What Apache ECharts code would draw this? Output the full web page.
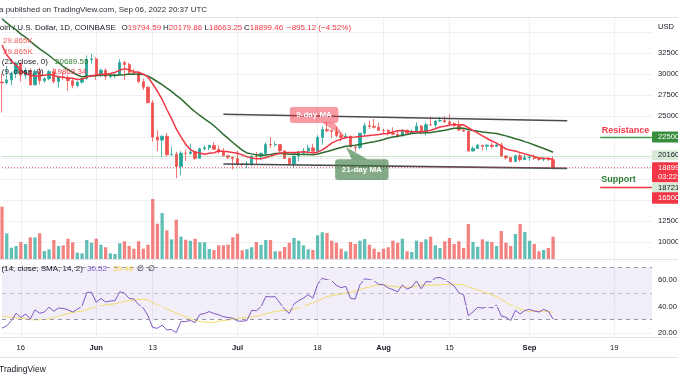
<!DOCTYPE html>
<html>
<head>
<meta charset="utf-8">
<script src="https://cdn.jsdelivr.net/npm/echarts@6.0.0/dist/echarts.min.js"></script>
<style>
html,body{margin:0;padding:0;background:#ffffff;}
#chart{width:678px;height:381px;}
</style>
</head>
<body>
<div id="chart"></div>
<script>
// ---------- data ----------
const categories = [
'05-12','05-13','05-14','05-15','05-16','05-17','05-18','05-19','05-20','05-21','05-22','05-23','05-24','05-25','05-26','05-27','05-28','05-29','05-30','05-31',
'06-01','06-02','06-03','06-04','06-05','06-06','06-07','06-08','06-09','06-10','06-11','06-12','06-13','06-14','06-15','06-16','06-17','06-18','06-19','06-20','06-21','06-22','06-23','06-24','06-25','06-26','06-27','06-28','06-29','06-30',
'07-01','07-02','07-03','07-04','07-05','07-06','07-07','07-08','07-09','07-10','07-11','07-12','07-13','07-14','07-15','07-16','07-17','07-18','07-19','07-20','07-21','07-22','07-23','07-24','07-25','07-26','07-27','07-28','07-29','07-30','07-31',
'08-01','08-02','08-03','08-04','08-05','08-06','08-07','08-08','08-09','08-10','08-11','08-12','08-13','08-14','08-15','08-16','08-17','08-18','08-19','08-20','08-21','08-22','08-23','08-24','08-25','08-26','08-27','08-28','08-29','08-30','08-31',
'09-01','09-02','09-03','09-04','09-05','09-06','09-07','09-08','09-09','09-10','09-11','09-12','09-13','09-14','09-15','09-16','09-17','09-18','09-19','09-20','09-21','09-22','09-23','09-24','09-25','09-26','09-27'
];
const opens = [
29050,28950,29300,30100,31300,29850,30430,28700,30300,29200,
29430,30290,29100,29650,29550,29200,28620,29030,29460,31730,
31800,29800,30450,29700,29860,29910,31370,31130,30200,30110,
29090,28420,26570,22490,22130,22580,20390,20450,19000,20570,
20560,20720,19970,21100,21230,21500,21030,20730,20270,20100,
19930,19280,19250,19300,20230,20190,20550,21620,21580,21600,
20850,19960,19320,20230,20580,20830,21200,20800,22450,23400,
23240,23150,22690,22460,22600,21310,21240,22950,23850,23780,
23650,23300,23270,22980,22820,22620,23310,22950,23170,23810,
23150,23950,23940,24400,24450,24300,24100,23860,23340,23200,
20830,21140,21520,21400,21530,21370,21560,20250,20040,19560,
20280,19800,20050,20130,19950,19830,19990,19794.59];
const highs = [
30050,30950,30300,31450,31320,30780,30680,30550,30750,29600,
30480,30670,29820,30200,29880,29380,29200,29550,32220,32400,
31980,30650,30690,29950,30150,31750,31550,31330,30630,30330,
29440,28550,26900,23300,22700,22980,21350,20750,20800,21000,
21700,20860,21200,21520,21580,21880,21500,21180,20400,20140,
20880,19400,19650,20280,20730,20650,21850,22500,21940,21600,
20860,20050,20250,20880,21200,21580,21680,22700,23800,24280,
23440,23750,22980,23000,22650,21350,22980,24180,24450,24650,
24200,23480,23450,23650,23200,23450,23350,23400,24240,23920,
24220,24920,24450,24890,25000,25200,24250,24450,23600,23200,
21380,21700,21520,21650,21820,21800,21850,20350,20150,20410,
20550,20480,20200,20440,20050,20000,20050,20179.86];
const lows = [
25400,28750,28650,29500,29100,29450,28680,28700,28750,28950,
29250,28880,28350,29300,28000,28300,28450,28850,29300,31200,
29300,29600,29300,29480,29500,29900,29250,29850,29950,28900,
28100,26560,21950,20850,20080,20250,20300,17600,17950,19650,
20350,19780,19900,20920,20950,20980,20500,20200,19850,18630,
18980,18970,18780,19050,19300,19770,20240,21200,21330,20650,
19880,19230,18900,19630,20380,20480,20760,20770,21600,23050,
22350,22450,22000,22280,21280,20720,21050,22600,23450,23520,
23250,22870,22680,22700,22430,22590,22940,22850,23150,22880,
22670,23850,23600,24300,24200,23800,23700,23200,23100,20800,
20780,21080,20890,20910,21150,21320,20100,19800,19540,19550,
19550,19800,19650,19750,19650,19600,19650,18663.25];
const closes = [
28950,29300,30100,31300,29850,30430,28700,30300,29200,29430,
30290,29100,29650,29550,29200,28620,29030,29460,31730,31800,
29800,30450,29700,29860,29910,31370,31130,30200,30110,29090,
28420,26570,22490,22130,22580,20390,20450,19000,20570,20560,
20720,19970,21100,21230,21500,21030,20730,20270,20100,19930,
19280,19250,19300,20230,20190,20550,21620,21580,21600,20850,
19960,19320,20230,20580,20830,21200,20800,22450,23400,23240,
23150,22690,22460,22600,21310,21240,22950,23850,23780,23650,
23300,23270,22980,22820,22620,23310,22950,23170,23810,23150,
23950,23940,24400,24450,24300,24100,23860,23340,23200,20830,
21140,21520,21400,21530,21370,21560,20250,20040,19560,20280,
19800,20050,20130,19950,19830,19990,19795,18899.46];
const volumes = [
70030,34410,15130,17410,22760,20090,29060,29000,34410,10710,
12990,25440,17410,18340,27180,22360,8440,7630,25440,21830,
27180,19150,15670,7630,6700,21020,23700,17410,13790,23700,
13790,19150,80340,47270,61590,38430,26380,52620,29860,25840,
24500,27180,22360,22360,13390,12050,18340,18340,19150,29060,
33880,11650,12990,15670,22760,19150,25440,25440,10310,10310,
16070,21830,28120,24500,18340,12990,12050,31730,35750,34810,
24500,21830,13790,10310,22760,20090,24500,26780,19150,13790,
9370,13790,15670,24500,21830,27180,10310,9370,24500,22760,
26380,29860,18340,14730,23700,28120,20090,23700,14730,46870,
22760,16470,26380,23700,22760,17410,37490,21830,17410,33480,
46870,36150,24500,20090,10310,12050,14730,29865];
// closes before the visible window (Mar 28 - May 11), needed to seed the indicators
const priorCloses = [
47100,47450,47060,45530,46300,45850,46440,46620,45550,43200,
43460,42290,42780,42160,39530,40080,41150,39940,40550,40400,
39690,40810,41500,41370,40490,39710,39470,39450,40430,38120,
39240,39740,38600,37630,38470,38520,37720,39690,36550,36010,
35470,34060,30300,31020,29050];
const timeTickDates = ['05-16','06-01','06-13','07-01','07-18','08-01','08-15','09-01','09-19'];
const timeTickTexts = ['16','Jun','13','Jul','18','Aug','15','Sep','19'];
const timeTickIsMonth = [false,true,false,true,false,true,false,true,false];
const priceTickValues = [10000,12500,25000,27500,30000,32500];
const rsiTickValues = [20,40,60];
const channelUpper = [['06-28',25200],['09-09',24440]];
const channelLower = [['06-28',19290],['09-09',18770]];
const resistanceLevel = 22500;
const supportLevel = 16500;
const levelSpan = ['09-16','09-27'];
const guideLevels = [20160, 18721];
const lastPrice = 18899.46;
const boxValues = [22500, 20160, 18899.46, 18721, 16500];
const boxTexts = ['22500.00','20160.00','18899.46\n03:22:41','18721.00','16500.00'];
const calloutTexts = ['9-day MA','21-day MA'];
const calloutAnchors = [['07-24',22380],['07-24',21310]];

// ---------- indicators ----------
const allCloses = priorCloses.concat(closes);
const off = priorCloses.length;
function sma(arr, n){
  return arr.map((v,i)=>{
    if (i < n-1 || v == null) return null;
    let s = 0;
    for (let k=i-n+1;k<=i;k++){ if (arr[k]==null) return null; s += arr[k]; }
    return s/n;
  });
}
const ma9 = sma(allCloses, 9).slice(off);
const ma21 = sma(allCloses, 21).slice(off);
const rsiAll = [null];
let ag = 0, al = 0;
for (let i=1;i<allCloses.length;i++){
  const ch = allCloses[i]-allCloses[i-1];
  const g = Math.max(ch,0), l = Math.max(-ch,0);
  if (i <= 14){
    ag += g/14; al += l/14;
    rsiAll.push(i===14 ? 100-100/(1+ag/al) : null);
  } else {
    ag = (ag*13+g)/14; al = (al*13+l)/14;
    rsiAll.push(100-100/(1+ag/al));
  }
}
const rsiMaAll = sma(rsiAll, 14);
const rsi = rsiAll.slice(off);
const rsiMa = rsiMaAll.slice(off);

// ---------- chart ----------
const FONT = '"Liberation Sans", Arial, sans-serif';
const UP = '#26a69a', DOWN = '#ef5350';
const isTick = (idx, val) => timeTickDates.indexOf(val) >= 0;
const GRID_LINE = '#eef0f4';

const chart = echarts.init(document.getElementById('chart'), null, {renderer:'canvas', width:678, height:381});

const gridBase = {left:2, right:26, containLabel:false, outerBoundsMode:'none'};
const option = {
  animation:false,
  backgroundColor:'#ffffff',
  textStyle:{fontFamily:FONT},
  grid:[
    Object.assign({top:11, height:252}, gridBase),
    Object.assign({top:139.5, height:119.5}, gridBase),
    Object.assign({top:259, height:78}, gridBase)
  ],
  xAxis:[0,1,2].map(i=>({
    type:'category', gridIndex:i, data:categories, boundaryGap:false,
    axisLine:{show:false}, axisTick:{show:false},
    axisLabel: i===2 ? {
      show:true, interval:isTick, margin:7, color:'#131722', fontSize:7.6, fontFamily:FONT,
      formatter:(v)=>{ const k = timeTickDates.indexOf(v); if(k<0) return ''; return timeTickIsMonth[k] ? '{b|'+timeTickTexts[k]+'}' : '{n|'+timeTickTexts[k]+'}'; },
      rich:{b:{fontWeight:'bold', fontSize:7.6, color:'#131722', fontFamily:FONT}, n:{fontSize:7.6, color:'#131722', fontFamily:FONT}}
    } : {show:false},
    splitLine: i===1 ? {show:false} : {show:true, interval:isTick, lineStyle:{color:GRID_LINE, width:1}}
  })),
  yAxis:[
    {gridIndex:0, type:'value', position:'right', min:7500, max:37500, interval:2500,
     axisLine:{show:false}, axisTick:{show:false},
     axisLabel:{margin:6, fontSize:7.6, color:'#131722', fontFamily:FONT,
       formatter:(v)=> priceTickValues.indexOf(v)>=0 ? v.toFixed(2) : ''},
     splitLine:{show:true, showMinLine:false, showMaxLine:false, lineStyle:{color:GRID_LINE, width:1}}},
    {gridIndex:1, type:'value', min:0, max:160000, show:false},
    {gridIndex:2, type:'value', min:16.8, max:76, show:false}
  ],
  series:[
    {type:'bar', name:'Volume', xAxisIndex:1, yAxisIndex:1, silent:true, z:1,
     barWidth:3.3,
     data: volumes.map((v,i)=>({value:v, itemStyle:{color: closes[i]>=opens[i] ? 'rgba(38,166,154,0.72)' : 'rgba(239,83,80,0.72)'}}))},
    {type:'candlestick', name:'BTCUSD', xAxisIndex:0, yAxisIndex:0, silent:true, z:3,
     barWidth:2.8,
     itemStyle:{color:UP, color0:DOWN, borderColor:UP, borderColor0:DOWN, borderWidth:0.8},
     data: opens.map((o,i)=>[o, closes[i], lows[i], highs[i]]),
     markLine:{
       silent:true, symbol:['none','none'], precision:2,
       label:{show:false},
       data:[
         [{coord:channelUpper[0], lineStyle:{color:'#4a4a4f', width:1.6, type:'solid'}}, {coord:channelUpper[1]}],
         [{coord:channelLower[0], lineStyle:{color:'#4a4a4f', width:1.6, type:'solid'}}, {coord:channelLower[1]}],
         [{coord:[levelSpan[0], resistanceLevel], lineStyle:{color:'#3d9a45', width:1.3, type:'solid'},
           label:{show:true, position:'insideStartTop', formatter:'Resistance', color:'#f23645', fontWeight:'bold', fontSize:9, fontFamily:FONT, distance:[1.5,2]}},
          {coord:[levelSpan[1], resistanceLevel]}],
         [{coord:[levelSpan[0], supportLevel], lineStyle:{color:'#f23645', width:1.3, type:'solid'},
           label:{show:true, position:'insideStartTop', formatter:'Support', color:'#2e7d32', fontWeight:'bold', fontSize:9, fontFamily:FONT, distance:[1,3.5]}},
          {coord:[levelSpan[1], supportLevel]}],
         {yAxis:guideLevels[0], lineStyle:{color:'rgba(76,175,80,0.3)', width:1, type:'solid'}},
         {yAxis:guideLevels[1], lineStyle:{color:'rgba(76,175,80,0.15)', width:1, type:'solid'}},
         {yAxis:lastPrice, lineStyle:{color:'rgba(242,54,69,0.75)', width:1, type:[1,2]}}
       ]
     }},
    {type:'line', name:'MA21', xAxisIndex:0, yAxisIndex:0, data:ma21, symbol:'none', silent:true, z:4,
     lineStyle:{color:'#2e6b2f', width:1.5}},
    {type:'line', name:'MA9', xAxisIndex:0, yAxisIndex:0, data:ma9, symbol:'none', silent:true, z:4,
     lineStyle:{color:'#f23645', width:1.5}},
    {type:'line', name:'RSI', xAxisIndex:2, yAxisIndex:2, data:rsi, symbol:'none', silent:true, z:4,
     lineStyle:{color:'#7e57c2', width:1},
     markArea:{silent:true, itemStyle:{color:'rgba(126,87,194,0.1)'}, data:[[{yAxis:70},{yAxis:30}]]},
     markLine:{silent:true, symbol:['none','none'],
       label:{show:false},
       data:[
         {yAxis:70, lineStyle:{color:'#9598a1', width:1, type:[4,4]}},
         {yAxis:50, lineStyle:{color:'rgba(149,152,161,0.55)', width:1, type:[4,4]}},
         {yAxis:30, lineStyle:{color:'#9598a1', width:1, type:[4,4]}}
       ].concat(rsiTickValues.map(v=>({yAxis:v, lineStyle:{color:GRID_LINE, width:1, type:'solid'},
         label:{show:true, position:'end', distance:6, formatter:v.toFixed(2), color:'#131722', fontSize:7.6, fontFamily:FONT}})))
     }},
    {type:'line', name:'RSI MA', xAxisIndex:2, yAxisIndex:2, data:rsiMa, symbol:'none', silent:true, z:3,
     lineStyle:{color:'#f5dc6a', width:1}}
  ]
};
chart.setOption(option);

// ---------- overlays (text, separators, price boxes, callouts) ----------
const px = (date, price) => chart.convertToPixel({xAxisIndex:0, yAxisIndex:0}, [categories.indexOf(date), price]);
const py = (price) => chart.convertToPixel({yAxisIndex:0}, price);
const g = [];
const txt = (x, y, text, fill, size, weight, extra) => g.push(Object.assign({type:'text', x:x, y:y, z:100, silent:true,
  style:{text:text, fill:fill, fontSize:size||8, fontWeight:weight||'normal', fontFamily:FONT, verticalAlign:'middle', align:'left'}}, extra||{}));
const hline = (y, color) => g.push({type:'line', z:95, silent:true, shape:{x1:0,y1:y,x2:678,y2:y}, style:{stroke:color, lineWidth:1}});

g.push({type:'rect', z:90, silent:true, shape:{x:0,y:0,width:678,height:17}, style:{fill:'#ffffff'}});
hline(17.5, '#e0e3eb');
hline(259.5, '#e0e3eb');
hline(337.5, '#e0e3eb');
hline(357.5, '#e0e3eb');

// header
txt(-1, 10, 'a published on TradingView.com, Sep 06, 2022 20:37 UTC', '#2a2e39', 8);
txt(-13.5, 27.7, 'Bitcoin / U.S. Dollar, 1D, COINBASE', '#131722', 8);
const ohlcKeys = ['O','H','L','C'];
const ohlcVals = ['19794.59','20179.86','18663.25','18899.46'];
const ohlcX = [121.5, 163, 204.5, 244];
ohlcKeys.forEach((k,i)=>{
  g.push({type:'text', x:ohlcX[i], y:27.7, z:100, silent:true, style:{
    text:'{k|'+k+'}{v|'+ohlcVals[i]+'}', verticalAlign:'middle', fontFamily:FONT, fontSize:8,
    rich:{k:{fill:'#131722', fontSize:8, fontFamily:FONT}, v:{fill:'#f23645', fontSize:8, fontFamily:FONT}}}});
});
txt(287, 27.7, '\u2212895.12 (\u22124.52%)', '#f23645', 8);
txt(658, 27, 'USD', '#131722', 7.6);
// indicator legends
txt(3, 40.7, '29.865K', '#f05d5b', 8);
txt(3, 51.3, '29.865K', '#f05d5b', 8);
txt(-12.5, 61.3, 'MA (21, close, 0)', '#131722', 8);
txt(55, 61.3, '20689.55', '#2e7d32', 8);
txt(-12.5, 71.9, 'MA (9, close, 0)', '#131722', 8);
txt(53, 71.9, '19863.34', '#f23645', 8);
txt(-14, 269, 'RSI (14, close, SMA, 14, 2)', '#131722', 8);
txt(87, 269, '30.52', '#7e57c2', 8);
txt(113, 269, '35.48', '#f5d44f', 8);
txt(137, 269, '\u2205  \u2205', '#131722', 8);
txt(-1, 370, 'TradingView', '#131722', 8.5);

// right-side price boxes
const boxStyles = [
  {bg:'#388e3c', fg:'#ffffff', dy:0, h:11},
  {bg:'#d7ead5', fg:'#131722', dy:-1.5, h:10},
  {bg:'#f23645', fg:'#ffffff', dy:5, h:20},
  {bg:'#d7ead5', fg:'#131722', dy:19.3, h:10},
  {bg:'#f23645', fg:'#ffffff', dy:10.6, h:11.5}
];
boxValues.forEach((v,i)=>{
  const s = boxStyles[i];
  const cy = py(v) + s.dy;
  g.push({type:'rect', z:96, silent:true, shape:{x:652, y:cy-s.h/2, width:30, height:s.h, r:1}, style:{fill:s.bg}});
  g.push({type:'text', x:658, y:cy, z:97, silent:true, style:{text:boxTexts[i], fill:s.fg, fontSize:7.6, fontFamily:FONT, verticalAlign:'middle', align:'left', lineHeight:8.5}});
});

// callouts
(function(){
  const t1 = px(calloutAnchors[0][0], calloutAnchors[0][1]);
  const c1 = 'rgba(242,54,69,0.5)';
  g.push({type:'polygon', z:98, silent:true, shape:{points:[[t1[0]-24,t1[1]-15.5],[t1[0]-12,t1[1]-15.5],[t1[0],t1[1]]]}, style:{fill:c1}});
  g.push({type:'rect', z:98, silent:true, shape:{x:t1[0]-56, y:t1[1]-31, width:48.5, height:16, r:3}, style:{fill:c1}});
  txt(t1[0]-56+24.25, t1[1]-23, calloutTexts[0], '#ffffff', 8, 'bold', {style:{text:calloutTexts[0], fill:'#ffffff', fontSize:8, fontWeight:'bold', fontFamily:FONT, verticalAlign:'middle', align:'center'}});
  const t2 = px(calloutAnchors[1][0], calloutAnchors[1][1]);
  const c2 = 'rgba(56,118,62,0.62)';
  g.push({type:'polygon', z:98, silent:true, shape:{points:[[t2[0]+6,t2[1]+12.5],[t2[0]+22,t2[1]+12.5],[t2[0],t2[1]]]}, style:{fill:c2}});
  g.push({type:'rect', z:98, silent:true, shape:{x:t2[0]-10.7, y:t2[1]+12.3, width:53.4, height:20.7, r:3}, style:{fill:c2}});
  txt(t2[0]-10.7+26.7, t2[1]+22.6, calloutTexts[1], '#ffffff', 8, 'bold', {style:{text:calloutTexts[1], fill:'#ffffff', fontSize:8, fontWeight:'bold', fontFamily:FONT, verticalAlign:'middle', align:'center'}});
})();

chart.setOption({graphic:{elements:g}});
</script>
</body>
</html>
